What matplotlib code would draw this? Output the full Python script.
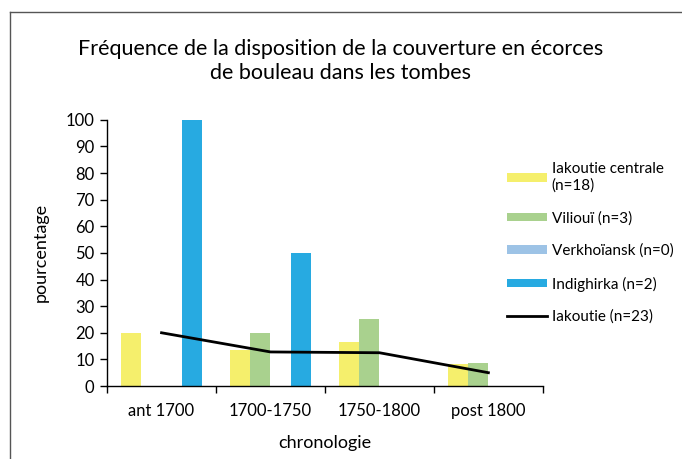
import matplotlib.pyplot as plt
import numpy as np
from matplotlib.lines import Line2D

plt.rcParams['font.family'] = ['Lato', 'DejaVu Sans']

periodes = ['ant 1700', '1700-1750', '1750-1800', 'post 1800']
iakoutie_centrale = [20, 13.5, 16.5, 8.2]
viliouii = [0, 20, 25, 8.7]
verkhoiansk = [0, 0, 0, 0]
indighirka = [100, 50, 0, 0]
iakoutie = [20, 12.8, 12.5, 5]

series = [
    ('Iakoutie centrale\n(n=18)', iakoutie_centrale, '#f5ef6c'),
    ('Viliouï (n=3)', viliouii, '#a9d18e'),
    ('Verkhoïansk (n=0)', verkhoiansk, '#9dc3e6'),
    ('Indighirka (n=2)', indighirka, '#27aae1'),
]

fig = plt.figure(figsize=(6.82, 4.59), dpi=100)
ax = fig.add_axes([0.157, 0.159, 0.639, 0.58])

x = np.arange(len(periodes))
w = 0.185
handles = []
for i, (lab, vals, col) in enumerate(series):
    handles.append(ax.bar(x + (i - 1.5) * w, vals, w, color=col, label=lab))
ligne, = ax.plot(x, iakoutie, color='black', lw=2, label='Iakoutie (n=23)')
handles.append(ligne)

ax.set_xlim(-0.5, 3.5)
ax.set_ylim(0, 100)
ax.set_yticks(range(0, 101, 10))
ax.set_xticks(x)
ax.set_xticklabels(periodes)
ax.set_xticks(np.arange(-0.5, 4, 1), minor=True)
ax.tick_params(axis='x', which='major', length=0, pad=12, labelsize=12)
ax.tick_params(axis='x', which='minor', length=5, width=1)
ax.tick_params(axis='y', length=5, width=1, labelsize=12, pad=4)
for s in ['top', 'right']:
    ax.spines[s].set_visible(False)
ax.spines['left'].set_linewidth(1)
ax.spines['bottom'].set_linewidth(1)

ax.set_xlabel('chronologie', fontsize=13, labelpad=12)
ax.set_ylabel('pourcentage', fontsize=13, labelpad=12)

fig.text(0.5, 0.868, 'Fréquence de la disposition de la couverture en écorces\nde bouleau dans les tombes',
         ha='center', va='center', fontsize=15.5, linespacing=1.25)

ax.legend(handles=handles, loc='upper left', bbox_to_anchor=(0.735, 0.66),
          bbox_transform=fig.transFigure,
          frameon=False, fontsize=11, handlelength=2.6, handleheight=0.5,
          handletextpad=0.3, labelspacing=1.2, borderaxespad=0)

# cadre
fig.add_artist(Line2D([0.0147, 0.0147], [0, 0.974], color='#555555', lw=1))
fig.add_artist(Line2D([0.0147, 1], [0.974, 0.974], color='#555555', lw=1))

fig.savefig('out.png', dpi=100)
